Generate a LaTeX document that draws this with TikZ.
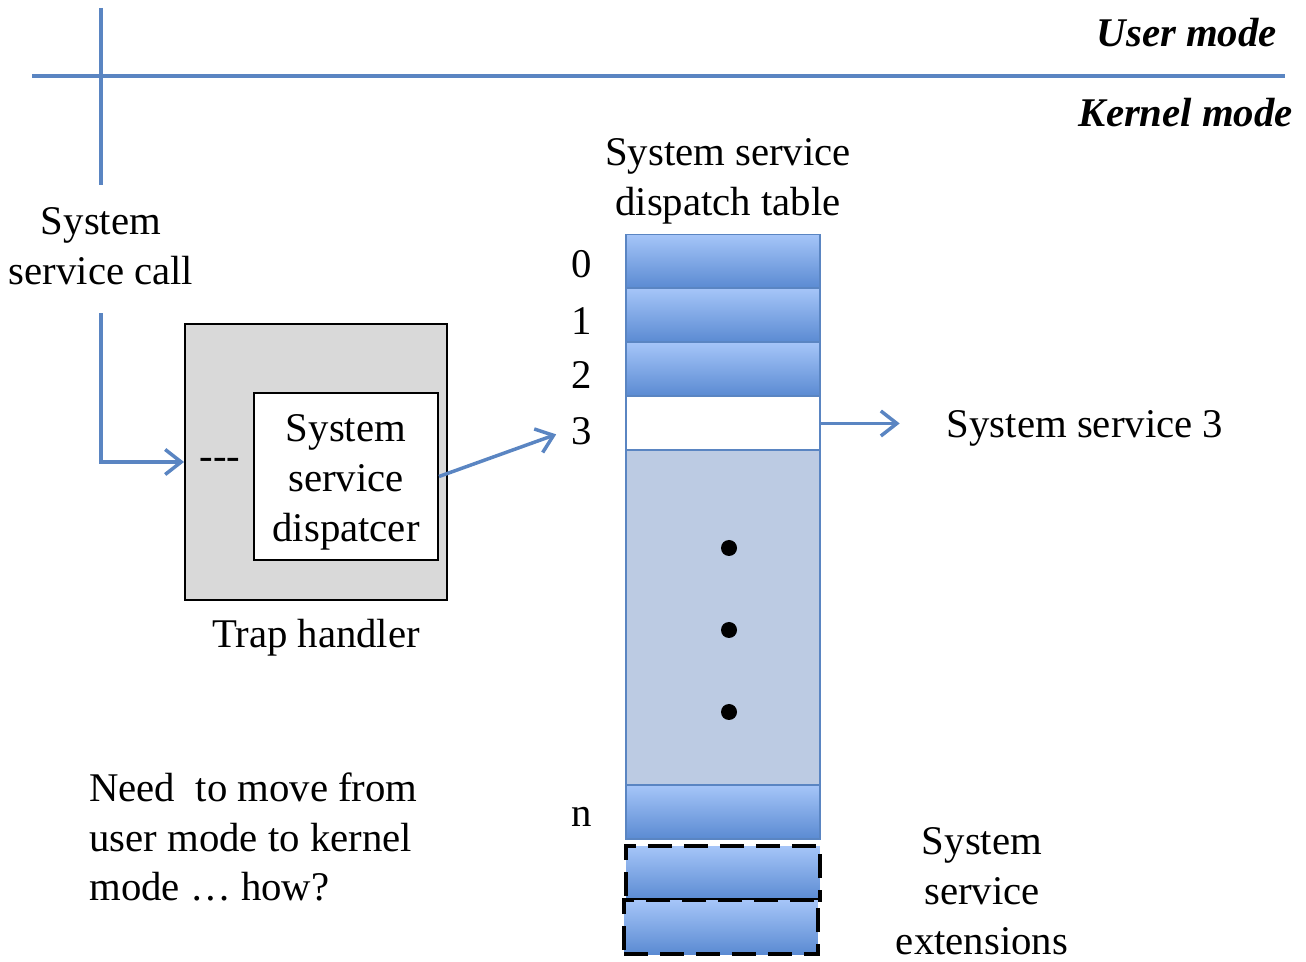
\documentclass[tikz,border=0pt]{standalone}
\usepackage{fontspec}
\setmainfont{Liberation Serif}
\usetikzlibrary{positioning,arrows.meta}
\definecolor{lineblue}{HTML}{5A85C2}
\definecolor{celltop}{HTML}{A5C5F8}
\definecolor{cellbot}{HTML}{5A8AD2}
\definecolor{tablefill}{HTML}{BCCBE3}
\definecolor{trapgray}{HTML}{D9D9D9}
\tikzset{
  txt/.style={font=\fontsize{23.2}{28.4}\selectfont, align=center},
  cell/.style={draw=lineblue, line width=0.04cm, top color=celltop, bottom color=cellbot,
    minimum width=3.88cm, minimum height=1.08cm, inner sep=0pt, outer sep=0pt},
  extcell/.style={cell, draw=black, line width=0.08cm, dash pattern=on 0.48cm off 0.24cm},
  bluearrow/.style={lineblue, line width=0.07cm, -{Straight Barb[length=0.32cm,width=0.5cm]}},
}

\begin{document}
\begin{tikzpicture}[x=0.02cm, y=-0.02cm]
\useasboundingbox (0,0) rectangle (1306,962);
% mode boundary
\draw[lineblue, line width=0.08cm] (32,76) -- (1285,76);
\draw[lineblue, line width=0.08cm] (101,8) -- (101,185);
\node[txt, anchor=east, font=\fontsize{23.2}{28.4}\selectfont\bfseries\itshape] (user) at (1283,33) {User mode};
\node[txt, anchor=east, font=\fontsize{23.2}{28.4}\selectfont\bfseries\itshape] (kernel) at (1299,113) {Kernel mode};
% trap handler
\node[txt] (call) at (101,246) {System\\service call};
\node[draw, line width=0.04cm, fill=trapgray, minimum width=5.24cm, minimum height=5.52cm] (trap) at (316,462) {};
\node[txt] (dash3) at (220,464) {{-}{-}{-}};
\node[txt, draw, line width=0.04cm, fill=white, minimum width=3.68cm, minimum height=3.34cm, inner sep=0pt] (disp) at (346,476.5) {};
\node[txt] (disptxt) at (346,482) {System\\service\\dispatcer};
\node[txt] (traplbl) at (316,638) {Trap handler};
\draw[bluearrow, shorten <=0.45cm] (call.south) |- (trap.west);
% dispatch table
\node[txt] (title) at (728,181) {System service\\dispatch table};
\node[cell] (row0) at (723,261.5) {};
\node[cell, below=0pt of row0] (row1) {};
\node[cell, below=0pt of row1] (row2) {};
\node[cell, below=0pt of row2, top color=white, bottom color=white] (row3) {};
\node[cell, below=0pt of row3, top color=tablefill, bottom color=tablefill, minimum height=6.7cm] (rest) {};
\node[cell, below=0pt of rest] (rown) {};
\node[extcell, below=0.14cm of rown] (ext1) {};
\node[extcell, below=0pt of ext1, xshift=-0.04cm] (ext2) {};
\fill (729,548) circle (8);
\fill (729,630) circle (8);
\fill (729,712) circle (8);
\node[txt] (lbl0) at (582,264) {0};
\node[txt] (lbl1) at (582,321) {1};
\node[txt] (lbl2) at (582,375) {2};
\node[txt] (lbl3) at (582,431) {3};
\node[txt] (lbln) at (582,817) {n};
\draw[bluearrow, shorten >=0.2cm] (disp.east) -- (lbl3.west);
\node[txt] (svc3) at (1085,428) {System service 3};
\draw[bluearrow, shorten >=0.82cm] (row3.east) -- (svc3.west |- row3.east);
\node[txt, inner sep=0pt] (extlbl) at (982,891) {System\\service\\extensions};
\node[txt, align=left, anchor=west, inner sep=0pt] (need) at (89,837) {Need\ \ to move from\\user mode to kernel\\mode … how?};
\end{tikzpicture}
\end{document}
